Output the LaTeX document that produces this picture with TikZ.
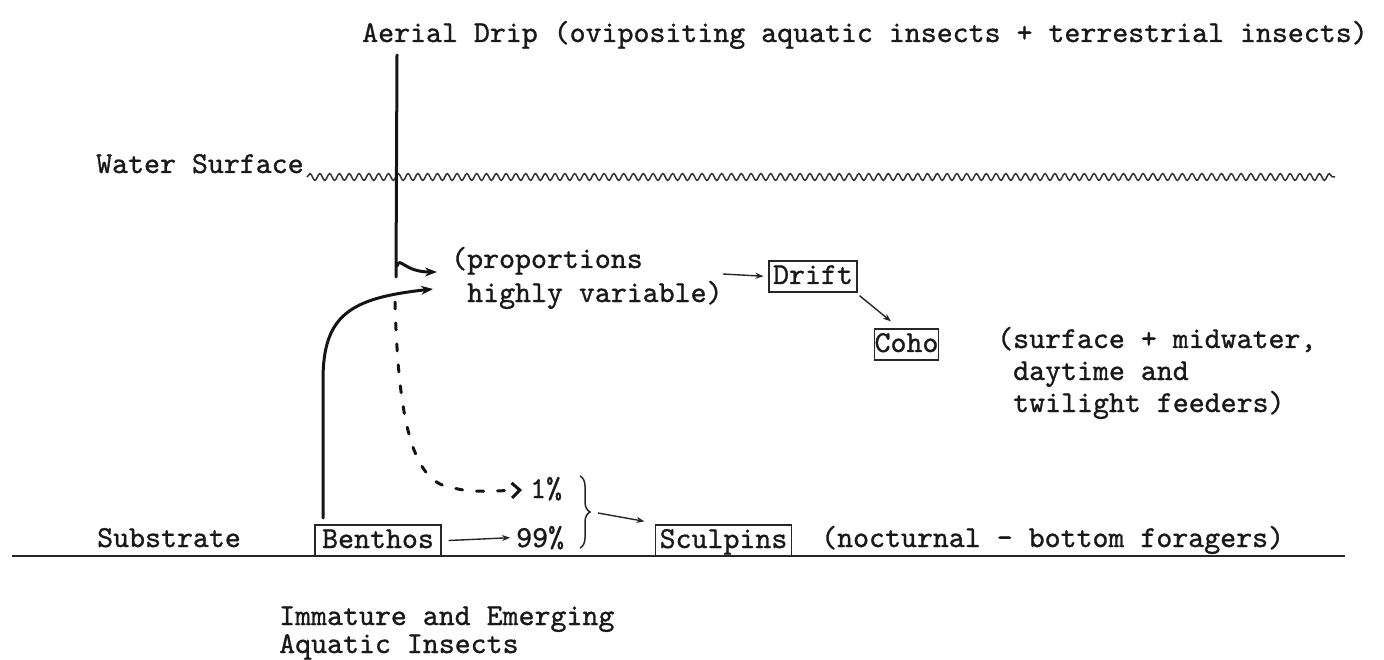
\documentclass[tikz,border=0pt]{standalone}
\usepackage{fontspec}
\newfontfamily\tw{lmmono10-regular.otf}[FakeBold=1.0]
\usetikzlibrary{arrows.meta,decorations.pathmorphing,decorations.pathreplacing,calc}
\begin{document}
\begin{tikzpicture}[x=1pt,y=-1pt,
  txt/.style={font=\tw\fontsize{30.4}{34}\selectfont, inner sep=0pt, anchor=base west, text=black!90},
  boxed/.style={txt, anchor=base, draw=black!85, line width=1.3pt, inner xsep=4pt, inner ysep=0pt, text height=23pt, text depth=8pt},
  hand/.style={line width=3pt, line cap=round, draw=black!92},
  handtip/.style={-{Stealth[length=12pt,width=9pt]}},
  typed/.style={line width=1.4pt, draw=black!85, -{Stealth[length=8pt,width=6pt]}},
  wavy/.style={line width=1.5pt, draw=black!80, decorate, decoration={snake, amplitude=3.4pt, segment length=9.8pt}},
  bracestyle/.style={line width=1.5pt, draw=black!85, decorate, decoration={brace, amplitude=10pt}},
]
\useasboundingbox (0,0) rectangle (1384,660);

% texts
\node[txt] (aerial) at (362,42) {Aerial Drip (ovipositing aquatic insects + terrestrial insects)};
\node[txt] (water) at (96,173) {Water Surface};
\node[txt] (prop1) at (451,268) {(proportions};
\node[txt] (prop2) at (467,302) {highly variable)};
\node[txt] (coho1) at (997,348) {(surface + midwater,};
\node[txt] (coho2) at (1013,380) {daytime and};
\node[txt] (coho3) at (1013,412) {twilight feeders)};
\node[txt] (p1) at (530,498) {1\%};
\node[txt] (p99) at (516,547) {99\%};
\node[txt] (substrate) at (97,547) {Substrate};
\node[txt] (noct) at (821,547) {(nocturnal - bottom foragers)};
\node[txt] (imm1) at (279,625) {Immature and Emerging};
\node[txt] (imm2) at (279,653) {Aquatic Insects};

% boxed nodes
\node[boxed] (drift) at (813,284) {Drift};
\node[boxed, inner xsep=0pt] (coho) at (906.5,352) {Coho};
\node[boxed, inner xsep=7pt] (benthos) at (378,548) {Benthos};
\node[boxed, inner xsep=4.5pt] (sculpins) at (723.5,548) {Sculpins};

% water surface and substrate
\coordinate (wl) at (307,177);
\coordinate (wr) at (1335,177);
\draw[wavy] (wl) -- (wr);
\coordinate (sl) at (12,556);
\coordinate (sr) at (1345,556);
\draw[line width=1.7pt, draw=black!85] (sl) -- (sr);

% aerial drip line with hook
\coordinate (atop) at (397,55);
\coordinate (abot) at (396,277);
\coordinate (hookstart) at (397,266);
\coordinate (hooktip) at (437,272);
\draw[hand] (atop) -- (abot);
\draw[hand, handtip] (hookstart) .. controls (400,256) and (404,272) .. (hooktip);

% benthos emerging curve
\coordinate (bup) at (323,518);
\coordinate (btip) at (433,289);
\draw[hand, handtip] (bup) -- (323,380) .. controls (323,315) and (350,298) .. (btip);

% dashed return to 1%
\coordinate (dstart) at (395,302);
\coordinate (dtip) at (522,490);
\draw[hand, dash pattern=on 7pt off 14pt, -{Straight Barb[length=8pt,width=15pt]}] (dstart) .. controls (398,410) and (410,475) .. (445,486) .. controls (470,492) .. (dtip);

% typed arrows
\coordinate (da) at (723,274);
\draw[typed, shorten >=5pt] (da) -- (drift.west);
\draw[typed] ($(drift.south east)+(2,3)$) -- ($(coho.north west)+(17,-7)$);
\draw[typed] ([xshift=7pt]benthos.east) -- ([xshift=-6pt]p99.west);

% brace and arrow to sculpins
\coordinate (bra) at (580,476);
\coordinate (brb) at (580,548);
\draw[bracestyle] (bra) -- (brb);
\coordinate (brtip) at (598,513);
\draw[typed] (brtip) -- ($(sculpins.north west)+(-10,-3)$);
\end{tikzpicture}
\end{document}
